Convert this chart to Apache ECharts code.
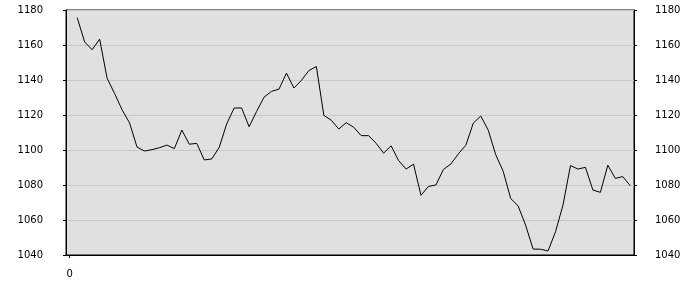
<!DOCTYPE html>
<html>
<head>
<meta charset="utf-8">
<script src="https://cdn.jsdelivr.net/npm/echarts@6/dist/echarts.min.js"></script>
<style>
html,body{margin:0;padding:0;background:#fff;}
#chart{width:700px;height:300px;}
</style>
</head>
<body>
<div id="chart"></div>
<script>
// x categories: index 0..75 (only "0" is labelled)
const categories = Array.from({length: 76}, (_, i) => String(i));
// series values for categories 1..75
const values = [
  1175.6, 1161.7, 1157.3, 1163.4, 1141.0, 1132.3, 1123.0, 1115.5, 1101.7, 1099.4,
  1100.2, 1101.3, 1102.8, 1100.8, 1111.4, 1103.3, 1103.8, 1094.3, 1094.9, 1101.5,
  1114.9, 1124.0, 1124.0, 1113.3, 1122.0, 1130.2, 1133.5, 1134.8, 1143.9, 1135.4,
  1139.8, 1145.4, 1147.7, 1119.8, 1117.0, 1112.0, 1115.6, 1113.0, 1108.2, 1108.2,
  1103.8, 1098.2, 1102.4, 1094.0, 1089.1, 1091.9, 1074.1, 1079.2, 1080.0, 1088.9,
  1092.0, 1097.8, 1102.7, 1115.4, 1119.4, 1111.3, 1097.3, 1087.8, 1072.3, 1068.0,
  1057.0, 1043.4, 1043.3, 1042.3, 1053.3, 1068.6, 1091.1, 1089.1, 1090.1, 1077.1,
  1075.8, 1091.3, 1083.8, 1084.8, 1079.6
];
const yTicks = [1040, 1060, 1080, 1100, 1120, 1140, 1160, 1180];

const chart = echarts.init(document.getElementById('chart'), null, {renderer: 'canvas'});
const font = {fontFamily: 'DejaVu Sans', fontSize: 10, color: '#000'};
const yCommon = {
  type: 'value',
  min: yTicks[0],
  max: yTicks[yTicks.length - 1],
  interval: yTicks[1] - yTicks[0],
  axisLine: {show: true, lineStyle: {color: '#000', width: 1}},
  axisTick: {show: true, length: 3, lineStyle: {color: '#000'}}
};
chart.setOption({
  animation: false,
  backgroundColor: '#fff',
  grid: {left: 66, right: 66, top: 10, bottom: 45, show: true,
         backgroundColor: '#e0e0e0', borderColor: '#000', borderWidth: 1},
  xAxis: {
    type: 'category',
    data: categories,
    boundaryGap: true,
    axisLine: {show: true, lineStyle: {color: '#000'}},
    axisTick: {show: true, length: 3, alignWithLabel: true, interval: (i) => i === 0, lineStyle: {color: '#000'}},
    axisLabel: Object.assign({interval: (i) => i === 0, margin: 14}, font),
    splitLine: {show: false}
  },
  yAxis: [
    Object.assign({}, yCommon, {
      position: 'left',
      axisLabel: Object.assign({margin: 23, formatter: (v) => String(v)}, font),
      splitLine: {show: true, lineStyle: {color: '#c8c8c8', width: 1}}
    }),
    Object.assign({}, yCommon, {
      position: 'right',
      axisLabel: Object.assign({margin: 21, formatter: (v) => String(v)}, font),
      splitLine: {show: false}
    })
  ],
  series: [{
    type: 'line',
    data: ['-'].concat(values),
    showSymbol: false,
    symbol: 'none',
    lineStyle: {color: '#000', width: 1},
    connectNulls: false
  }]
});
</script>
</body>
</html>
